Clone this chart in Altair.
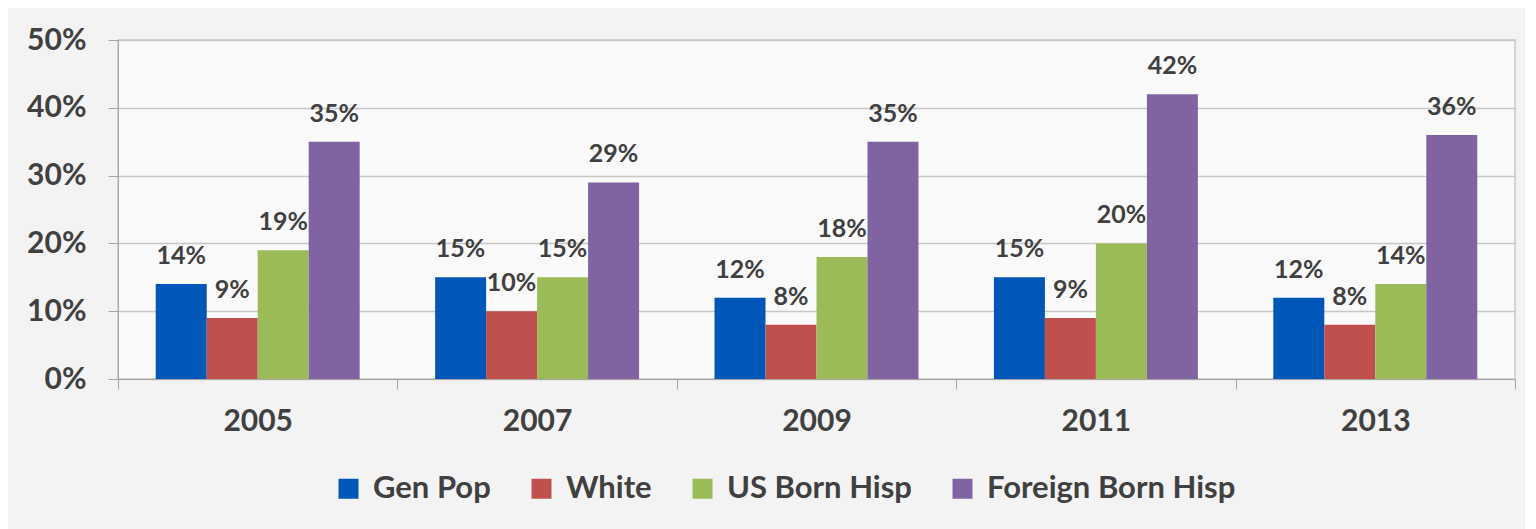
import altair as alt
import pandas as pd

years = ["2005", "2007", "2009", "2011", "2013"]
series = ["Gen Pop", "White", "US Born Hisp", "Foreign Born Hisp"]
colors = ["#0057B8", "#C0504D", "#9BBB59", "#8064A2"]
gen_pop = [0.14, 0.15, 0.12, 0.15, 0.12]
white = [0.09, 0.10, 0.08, 0.09, 0.08]
us_born = [0.19, 0.15, 0.18, 0.20, 0.14]
foreign_born = [0.35, 0.29, 0.35, 0.42, 0.36]
y_ticks = [0, 0.1, 0.2, 0.3, 0.4, 0.5]

rows = []
for name, vals in zip(series, [gen_pop, white, us_born, foreign_born]):
    for yr, v in zip(years, vals):
        rows.append({"Year": yr, "Group": name, "Value": v})
df = pd.DataFrame(rows)

FONT = "Lato"
TXT = "#404040"

x_enc = alt.X(
    "Year:N",
    sort=years,
    title=None,
    scale=alt.Scale(paddingInner=0, paddingOuter=0),
    axis=alt.Axis(
        labelAngle=0,
        labelFontSize=30,
        labelFont=FONT,
        labelFontWeight="bold",
        labelColor=TXT,
        labelPadding=17,
        tickSize=10,
        tickColor="#a6a6a6",
        domainColor="#a6a6a6",
        tickBand="extent",
        grid=False,
    ),
)
xoff = alt.XOffset(
    "Group:N",
    sort=series,
    scale=alt.Scale(paddingInner=0, paddingOuter=0.74),
)
y_enc = alt.Y(
    "Value:Q",
    title=None,
    scale=alt.Scale(domain=[0, 0.5], nice=False),
    axis=alt.Axis(
        values=y_ticks,
        format=".0%",
        labelFontSize=30,
        labelFont=FONT,
        labelFontWeight="bold",
        labelColor=TXT,
        labelPadding=22,
        tickSize=10,
        tickColor="#a6a6a6",
        domainColor="#a6a6a6",
        gridColor="#c8c8c8",
        gridWidth=1.5,
    ),
)
color_enc = alt.Color(
    "Group:N",
    sort=series,
    scale=alt.Scale(domain=series, range=colors),
    legend=alt.Legend(
        title=None,
        orient="none",
        direction="horizontal",
        legendX=215,
        legendY=433,
        symbolType="square",
        symbolSize=400,
        symbolStrokeWidth=0,
        symbolOpacity=1,
        labelFontSize=31,
        labelFont=FONT,
        labelFontWeight="bold",
        labelColor=TXT,
        labelOffset=9,
        labelLimit=400,
        columnPadding=35,
        padding=0,
    ),
)

bars = alt.Chart(df).mark_bar().encode(
    x=x_enc, xOffset=xoff, y=y_enc, color=color_enc
)
labels = alt.Chart(df).mark_text(
    dy=-28, baseline="middle", fontSize=25, font=FONT, fontWeight="bold", color=TXT
).encode(
    x=alt.X("Year:N", sort=years),
    xOffset=alt.XOffset("Group:N", sort=series),
    y="Value:Q",
    text=alt.Text("Value:Q", format=".0%"),
)

chart = (
    alt.layer(bars, labels)
    .properties(
        width=1397,
        height=339,
        autosize=alt.AutoSizeParams(type="none"),
        padding={"left": 110, "top": 32, "right": 10, "bottom": 150},
        background="#f3f3f3",
    )
    .configure_view(stroke="#c8c8c8", strokeWidth=1.5, fill="#fafafa")
)

chart.save("out.html", embed_options={"renderer": "svg", "actions": False})
